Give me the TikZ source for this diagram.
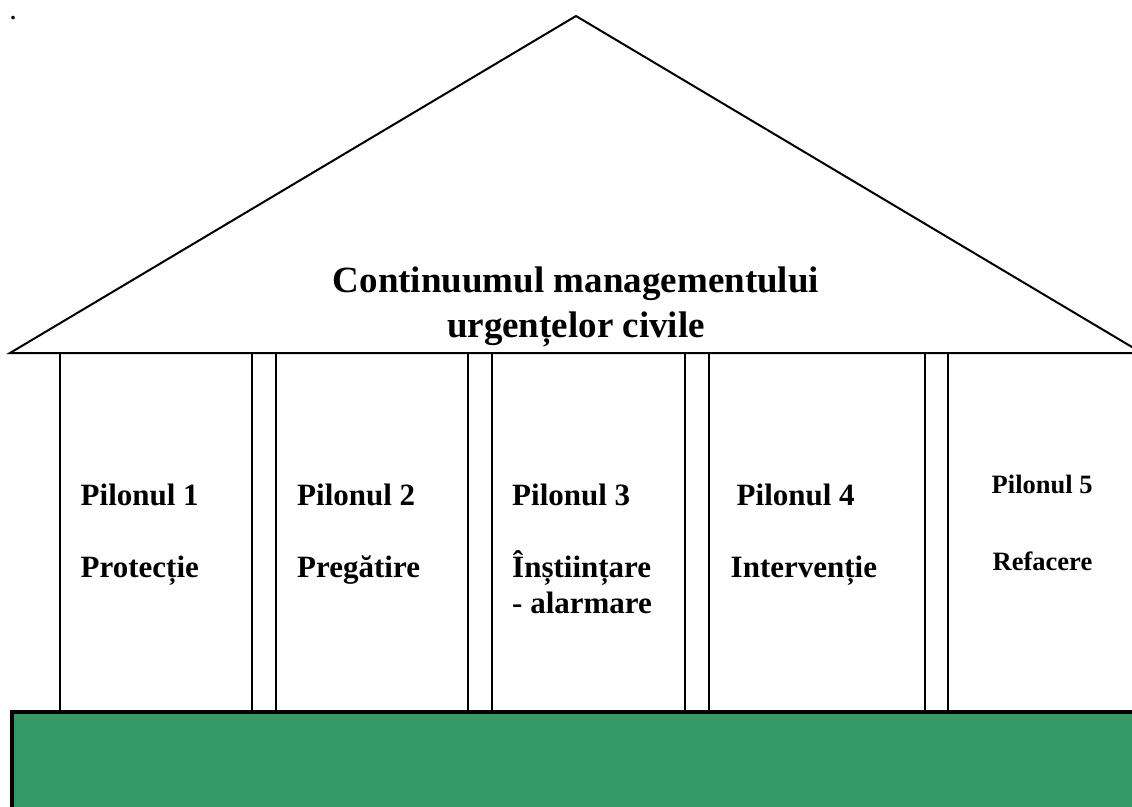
\documentclass[tikz,border=0pt]{standalone}
\usepackage{fontspec}
\setmainfont{Liberation Serif}
\definecolor{basegreen}{RGB}{51,153,102}
\begin{document}
\begin{tikzpicture}[x=1pt,y=-1pt,
  line/.style={draw=black,line width=2pt,line join=miter},
  title/.style={font=\fontsize{37}{44}\selectfont\bfseries,inner sep=0pt,anchor=base},
  pil/.style={font=\fontsize{31}{36}\selectfont\bfseries,inner sep=0pt,anchor=base west},
  pilsmall/.style={font=\fontsize{26.5}{31}\selectfont\bfseries,inner sep=0pt,anchor=base west}]
\useasboundingbox (0,0) rectangle (1132,806);
\clip (0,0) rectangle (1132,806);
\fill[white] (0,0) rectangle (1132,806);

% stray mark in the corner
\node[font=\fontsize{22}{24}\selectfont\bfseries,inner sep=0pt,anchor=base] (mark) at (13,19) {.};

% roof
\coordinate (roofL) at (10,353);
\coordinate (apex) at (576,16);
\coordinate (roofR) at (1142,353);
\draw[line] (roofL) -- (apex) -- (roofR) -- cycle;

% pillars
\foreach \l/\r in {60/252, 276/468, 492/685, 709/925, 948/1150}{
  \draw[line] (\l,712) -- (\l,353) -- (\r,353) -- (\r,712);
}

% foundation
\draw[fill=basegreen,draw=black,line width=3.5pt] (12,712) rectangle (1160,830);

% title
\node[title] (t1) at (576,292) {Continuumul managementului};
\node[title] (t2) at (576,337) {urgențelor civile};

% pillar labels
\node[pil] (p1a) at (80.5,505) {Pilonul 1};
\node[pil] (p1b) at (80.5,577) {Protecție};
\node[pil] (p2a) at (297,505) {Pilonul 2};
\node[pil] (p2b) at (297,577) {Pregătire};
\node[pil] (p3a) at (512,505) {Pilonul 3};
\node[pil] (p3b) at (512,577) {Înștiințare};
\node[pil] (p3c) at (512,613) {- alarmare};
\node[pil] (p4a) at (736.5,505) {Pilonul 4};
\node[pil] (p4b) at (730.5,577) {Intervenție};
\node[pilsmall] (p5a) at (991.5,493) {Pilonul 5};
\node[pilsmall] (p5b) at (992.5,570) {Refacere};
\end{tikzpicture}
\end{document}
